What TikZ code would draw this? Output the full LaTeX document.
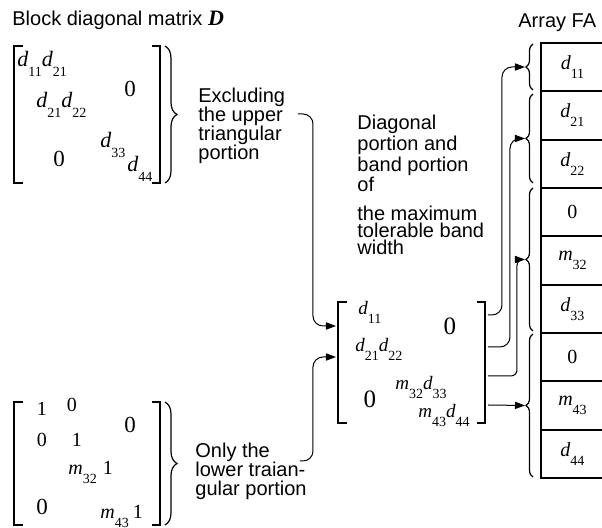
\documentclass[tikz,border=0pt]{standalone}
\usepackage{fontspec}
\setmainfont{Liberation Sans}
\newfontfamily\tms{Liberation Serif}
\usetikzlibrary{arrows.meta,decorations.pathreplacing}
% entry with a lowered index
\newcommand{\ent}[2]{{\itshape #1}\raisebox{-0.45em}{\scriptsize #2}}

\begin{document}
\begin{tikzpicture}[x=0.5pt,y=-0.5pt,
    lbl/.style={inner sep=0pt, anchor=north west, align=left, font=\fontsize{10}{9.5}\selectfont},
    hdr/.style={inner sep=0pt, anchor=base west, font=\fontsize{10}{10}\selectfont},
    ent/.style={inner sep=0pt, anchor=base west, font=\tms\fontsize{10.5}{10.5}\selectfont},
    num/.style={inner sep=0pt, anchor=base, font=\tms\fontsize{10}{10}\selectfont},
    big/.style={inner sep=0pt, anchor=base, font=\tms\fontsize{11.5}{11.5}\selectfont},
    brk/.style={line width=0.6pt},
    rbrace/.style={line width=0.6pt, decorate, decoration={brace, amplitude=6pt}},
    lbrace/.style={line width=0.6pt, decorate, decoration={brace, amplitude=3.5pt}},
    cell/.style={draw, line width=1pt, minimum width=31.5pt, minimum height=24.17pt,
                 inner sep=0pt, font=\tms\fontsize{10}{10}\selectfont},
    conn/.style={-{Triangle[length=5pt,width=3.6pt]}, line width=0.5pt, rounded corners=5pt}
]
    \useasboundingbox (0,0) rectangle (602,528);

    % headings
    \node[hdr] (title) at (12,26) {Block diagonal matrix {\tms\bfseries\itshape\fontsize{11}{11}\selectfont D}};
    \node[hdr] (fahdr) at (518,28) {Array FA};

    % block diagonal matrix D
    \draw[brk] (23,46) -- (14,46) -- (14,183) -- (23,183);
    \draw[brk] (152,46) -- (160,46) -- (160,183) -- (152,183);
    \draw[rbrace] (165,46) -- (165,183);
    \node[ent, font=\tms\fontsize{11}{11}\selectfont] (u1) at (17,67) {\ent{d}{11}\ent{d}{21}};
    \node[ent, font=\tms\fontsize{11}{11}\selectfont] (u2) at (36,108) {\ent{d}{21}\ent{d}{22}};
    \node[big] (u3) at (130,97) {0};
    \node[big] (u4) at (59,167) {0};
    \node[ent, font=\tms\fontsize{11}{11}\selectfont] (u5) at (100,148) {\ent{d}{33}};
    \node[ent, font=\tms\fontsize{11}{11}\selectfont] (u6) at (127,172) {\ent{d}{44}};
    \node[lbl] (excl) at (198,88) {Excluding\\the upper\\triangular\\portion};

    % lower triangular matrix
    \draw[brk] (23,402) -- (14,402) -- (14,525) -- (23,525);
    \draw[brk] (152,402) -- (160,402) -- (160,525) -- (152,525);
    \draw[rbrace] (165,402) -- (165,525);
    \node[num] (l1) at (42,416) {1};
    \node[num] (l2) at (72,412) {0};
    \node[big] (l3) at (130,433) {0};
    \node[num] (l4) at (42,447) {0};
    \node[num] (l5) at (77,447) {1};
    \node[ent, font=\tms\fontsize{10}{10}\selectfont] (l6) at (68,475) {\ent{m}{32}};
    \node[num] (l7) at (108,475) {1};
    \node[big] (l8) at (42,515) {0};
    \node[ent, font=\tms\fontsize{10}{10}\selectfont] (l9) at (100,519) {\ent{m}{43}};
    \node[num] (l10) at (138,519) {1};
    \node[lbl] (only) at (195,443) {Only the\\lower traian-\\gular portion};

    % band matrix
    \draw[brk] (347,302) -- (338,302) -- (338,423) -- (347,423);
    \draw[brk] (477,302) -- (485,302) -- (485,423) -- (477,423);
    \node[ent, font=\tms\fontsize{9.5}{9.5}\selectfont] (m1) at (358,315) {\ent{d}{11}};
    \node[big, font=\tms\fontsize{12.5}{12.5}\selectfont] (m2) at (450,335) {0};
    \node[ent, font=\tms\fontsize{9.5}{9.5}\selectfont] (m3) at (355,352) {\ent{d}{21}\ent{d}{22}};
    \node[ent, font=\tms\fontsize{9.5}{9.5}\selectfont] (m4) at (395,390) {\ent{m}{32}\ent{d}{33}};
    \node[big, font=\tms\fontsize{12.5}{12.5}\selectfont] (m5) at (370,408) {0};
    \node[ent, font=\tms\fontsize{9.5}{9.5}\selectfont] (m6) at (418,418) {\ent{m}{43}\ent{d}{44}};
    \node[lbl, font=\fontsize{10}{8.5}\selectfont] (diag) at (357,115)
        {Diagonal\\portion and\\band portion\\of\\[6pt]the maximum\\tolerable band\\width};

    % array FA
    \foreach \v [count=\i] in {{\ent{d}{11}},{\ent{d}{21}},{\ent{d}{22}},0,{\ent{m}{32}},
                               {\ent{d}{33}},0,{\ent{m}{43}},{\ent{d}{44}}}
        \node[cell] (c\i) at (572.5,{18.83+48.33*\i}) {\v};
    \draw[lbrace] (533,90) -- (533,44);
    \draw[lbrace] (533,183) -- (533,94);
    \draw[lbrace] (533,331) -- (533,188);
    \draw[lbrace] (533,477) -- (533,334);

    % connector ends
    \coordinate (exc) at (298,114);
    \coordinate (low) at (300,461);
    \coordinate (in1) at (336,326);
    \coordinate (in2) at (336,357);
    \coordinate (out1) at (488,315);
    \coordinate (out2) at (488,347);
    \coordinate (out3) at (488,376);
    \coordinate (out4) at (488,405);
    \coordinate (fa1) at (525,67);
    \coordinate (fa2) at (525,138.5);
    \coordinate (fa3) at (525,259.5);
    \coordinate (fa4) at (525,405.5);

    \draw[conn] (exc) -- ++(15,0) |- (in1);
    \draw[conn] (low) -- ++(13,0) |- (in2);
    \draw[conn] (out1) -- ++(14,0) |- (fa1);
    \draw[conn] (out2) -- ++(22,0) |- (fa2);
    \draw[conn, rounded corners=3pt] (out3) -- ++(29,0) |- (fa3);
    \draw[conn] (out4) -- (fa4);
\end{tikzpicture}
\end{document}
